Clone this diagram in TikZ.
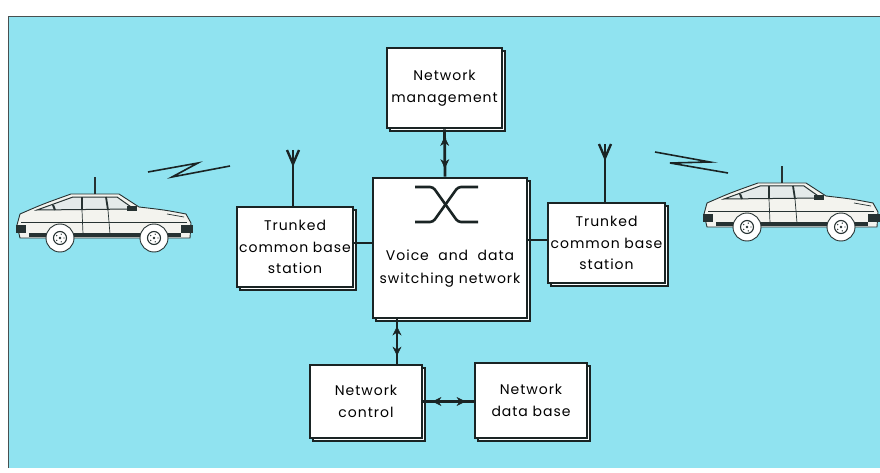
\documentclass[tikz,border=0pt]{standalone}
\usepackage{fontspec}
\setmainfont{Poppins}[LetterSpace=7]
\usetikzlibrary{shadows,arrows.meta,decorations.markings,calc}

\definecolor{sky}{HTML}{90E3F0}
\definecolor{ink}{HTML}{1A2424}
\definecolor{carbody}{HTML}{F3F3EE}
\definecolor{carglass}{HTML}{E4EAEA}
\definecolor{cardark}{HTML}{263232}

\tikzset{
  blockbox/.style={draw=ink, line width=2.8pt, fill=white, align=center,
    inner sep=2pt, copy shadow={shadow xshift=3pt, shadow yshift=-3pt},
    font=\fontsize{14}{21.5}\selectfont},
  link/.style={draw=ink, line width=2.8pt},
  twoway/.style={link, postaction={decorate, decoration={markings,
      mark=at position 0.18 with {\arrowreversed{Stealth[length=9pt,width=9pt,inset=3pt,line width=0.5pt]}},
      mark=at position 0.84 with {\arrow{Stealth[length=9pt,width=9pt,inset=3pt,line width=0.5pt]}}}}},
  spark/.style={draw=ink, line width=1.6pt, line join=miter},
  mast/.style={draw=ink, line width=2.4pt},
  car/.pic={
    % body shell
    \filldraw[fill=carbody, draw=cardark, line width=0.9pt]
      (3,0) -- (0,-13) -- (3,-24) .. controls (26,-34) .. (54,-44)
      -- (102,-44) -- (122,-31) .. controls (148,-28) .. (169,-24)
      -- (174,-15) -- (173,0) -- cycle;
    % glass and pillars
    \filldraw[fill=carglass, draw=cardark, line width=1pt]
      (20,-28) -- (56,-41) -- (100,-41) -- (117,-29) -- cycle;
    \draw[cardark, line width=2pt] (36,-33) -- (38,-28);
    \draw[cardark, line width=1.8pt] (65,-41) -- (65,-28);
    \draw[cardark, line width=1.8pt] (89,-41) -- (91,-28);
    \fill[cardark] (110,-32) rectangle (120,-27);
    % trim lines
    \draw[cardark, line width=0.7pt] (4,-16) -- (170,-16);
    \draw[cardark, line width=0.7pt] (65,-28) -- (66,-4);
    \draw[cardark, line width=0.7pt] (91,-28) -- (93,-4);
    \draw[cardark, line width=0.7pt] (150,-24) -- (167,-21);
    \draw[cardark, line width=3.4pt] (12,-3) -- (164,-3);
    \fill[cardark] (-1,-13) rectangle (9,-5);
    \fill[cardark] (164,-13) rectangle (176,-5);
    % antenna
    \draw[cardark, line width=2.4pt] (78,-44) -- (78,-61);
    % wheels
    \foreach \wx in {43,137} {
      \filldraw[fill=white, draw=cardark, line width=0.9pt] (\wx,0) circle (14);
      \filldraw[fill=white, draw=cardark, line width=1.1pt] (\wx,0) circle (6.5);
      \fill[cardark] (\wx,0) circle (1.4);
      \foreach \a in {0,72,...,288} \fill[cardark] (\wx,0) ++(\a:4) circle (0.7);
    }
  }
}

\begin{document}
\begin{tikzpicture}[x=1pt, y=-1pt]
  \useasboundingbox (0,0) rectangle (880,473);
  \fill[white] (0,0) rectangle (880,473);
  \fill[sky] (8,16) rectangle (880,468);
  \draw[ink!80, line width=0.8pt] (8,468) -- (8,16) -- (880,16);

  % blocks
  \node[blockbox, minimum width=115pt, minimum height=80pt] (mgmt) at (444.5,88) {Network\\management};
  \node[blockbox, minimum width=154pt, minimum height=140pt] (sw) at (450,248) {};
  \node[font=\fontsize{14}{23}\selectfont, align=center] (swlabel) at (450,269) {Voice\ \ and\ \ data\\switching network};
  \node[blockbox, minimum width=116pt, minimum height=80pt] (tl) at (295,247) {Trunked\\common\ base\\station};
  \node[blockbox, minimum width=117pt, minimum height=80pt] (tr) at (606.5,243) {Trunked\\common base\\station};
  \node[blockbox, minimum width=112pt, minimum height=73pt] (ctl) at (366,401.5) {Network\\control};
  \node[blockbox, minimum width=112pt, minimum height=75pt] (db) at (531,400.5) {Network\\data base};

  % crossover symbol inside the switch
  \draw[ink, line width=2.6pt, rounded corners=3pt]
    (415,187) -- (433,187) -- (458,222) -- (478,222);
  \draw[ink, line width=2.6pt, rounded corners=3pt]
    (478,187) -- (458,187) -- (433,222) -- (415,222);

  % links
  \draw[twoway] ([xshift=-5pt]sw.north) -- (mgmt.south);
  \draw[twoway] ([xshift=31pt]ctl.north) -- ([xshift=31pt]ctl.north |- sw.south);
  \draw[twoway] (ctl.east) -- (ctl.east -| db.west);
  \draw[link] ([yshift=4pt]tl.east) -- ([yshift=4pt]tl.east -| sw.west);
  \draw[link] ([yshift=3pt]tr.west) -- ([yshift=3pt]tr.west -| sw.east);

  % antennas
  \coordinate (antL) at (293,150);
  \coordinate (antR) at (605,144);
  \draw[mast] (antL) -- (antL |- tl.north);
  \draw[mast] (antL) ++(-6,0) -- ++(6,14) -- ++(6,-14);
  \draw[mast] (antR) -- (antR |- tr.north);
  \draw[mast] (antR) ++(-6,0) -- ++(6,14) -- ++(6,-14);

  % radio links
  \draw[spark] (148,172) -- (198,163) -- (172,177) -- (230,166);
  \draw[spark] (655,152) -- (710,162) -- (670,163) -- (728,173);

  % vehicles
  \pic at (17,238) {car};
  \pic at (704,227) {car};
\end{tikzpicture}
\end{document}
